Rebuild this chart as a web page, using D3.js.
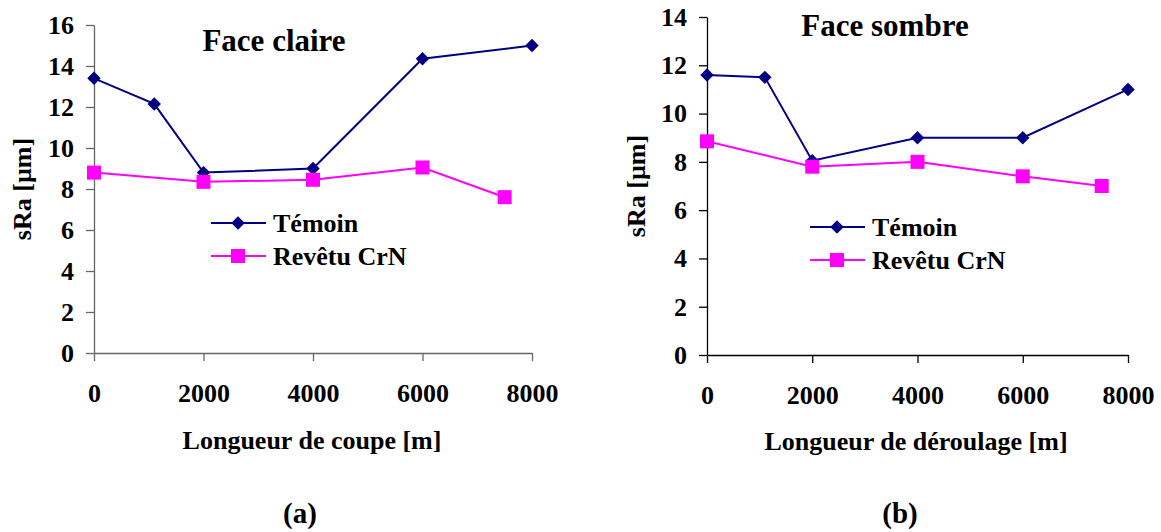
<!DOCTYPE html>
<html>
<head>
<meta charset="utf-8">
<script src="https://cdn.jsdelivr.net/npm/d3@7"></script>
<style>
  body { margin: 0; background: #fff; }
  svg text { font-family: "Liberation Serif", "Times New Roman", serif; font-weight: bold; fill: #000; }
</style>
</head>
<body>
<div id="chart"></div>
<script>
// données
const xTicks = [0, 2000, 4000, 6000, 8000];

const xTemoinA = [0, 1100, 2000, 4000, 6000, 8000];
const yTemoinA = [13.4, 12.15, 8.8, 9.0, 14.35, 15.0];
const xRevetuA = [0, 2000, 4000, 6000, 7500];
const yRevetuA = [8.8, 8.35, 8.45, 9.05, 7.6];
const yTicksA = [0, 2, 4, 6, 8, 10, 12, 14, 16];

const xTemoinB = [0, 1100, 2000, 4000, 6000, 8000];
const yTemoinB = [11.6, 11.5, 8.05, 9.0, 9.0, 11.0];
const xRevetuB = [0, 2000, 4000, 6000, 7500];
const yRevetuB = [8.85, 7.8, 8.0, 7.4, 7.0];
const yTicksB = [0, 2, 4, 6, 8, 10, 12, 14];

const seriesNames = ["Témoin", "Revêtu CrN"];
const navy = "#000080", magenta = "#FF00FF";

const svg = d3.select("#chart").append("svg")
    .attr("width", 1161)
    .attr("height", 532);

const panels = [
    {
        title: "Face claire", xTitle: "Longueur de coupe [m]", caption: "(a)",
        xRange: [94, 532], yMax: 16, yRange: [353, 25], yTicks: yTicksA,
        axisColor: "#666",
        temoin: xTemoinA.map((d, i) => [d, yTemoinA[i]]),
        revetu: xRevetuA.map((d, i) => [d, yRevetuA[i]]),
        titlePos: [274, 51], legend: [211, 223], yTitleX: 31, yTitleY: 189,
        xTitleX: 312, xTitleY: 449, captionX: 300
    },
    {
        title: "Face sombre", xTitle: "Longueur de déroulage [m]", caption: "(b)",
        xRange: [707, 1128], yMax: 14, yRange: [355, 17], yTicks: yTicksB,
        axisColor: "#000",
        temoin: xTemoinB.map((d, i) => [d, yTemoinB[i]]),
        revetu: xRevetuB.map((d, i) => [d, yRevetuB[i]]),
        titlePos: [885, 36], legend: [810, 227], yTitleX: 645, yTitleY: 186,
        xTitleX: 916, xTitleY: 450, captionX: 900
    }
];

panels.forEach(p => drawPanel(p));

function drawPanel(p){
    const x = d3.scaleLinear().domain([0, 8000]).range(p.xRange);
    const y = d3.scaleLinear().domain([0, p.yMax]).range(p.yRange);

    const g = svg.append("g");

    // Axe Y
    const yAxis = g.append("g")
        .attr("transform", `translate(${p.xRange[0]},0)`)
        .call(d3.axisLeft(y).tickValues(p.yTicks).tickSize(8).tickPadding(12).tickSizeOuter(0));
    yAxis.selectAll("text").style("font-size", "26px");

    // Axe X
    const xAxis = g.append("g")
        .attr("transform", `translate(0,${p.yRange[0]})`)
        .call(d3.axisBottom(x).tickValues(xTicks).tickFormat(d3.format("d")).tickSize(8).tickPadding(23).tickSizeOuter(0));
    xAxis.selectAll("text").style("font-size", "26px");

    [yAxis, xAxis].forEach(a => {
        a.select(".domain").attr("stroke", p.axisColor).attr("stroke-width", 1.3);
        a.selectAll(".tick line").attr("stroke", p.axisColor).attr("stroke-width", 1.3);
    });

    // Lignes
    const line = d3.line().x(d => x(d[0])).y(d => y(d[1]));
    g.append("path").datum(p.temoin)
        .attr("d", line).attr("fill", "none")
        .attr("stroke", navy).attr("stroke-width", 2);
    g.append("path").datum(p.revetu)
        .attr("d", line).attr("fill", "none")
        .attr("stroke", magenta).attr("stroke-width", 2);

    // Marqueurs
    const diamond = d3.symbol().type(d3.symbolDiamond2).size(115);
    g.selectAll(".m1").data(p.temoin).join("path")
        .attr("d", diamond)
        .attr("transform", d => `translate(${x(d[0])},${y(d[1])})`)
        .attr("fill", navy);
    g.selectAll(".m2").data(p.revetu).join("rect")
        .attr("x", d => x(d[0]) - 7).attr("y", d => y(d[1]) - 7)
        .attr("width", 14).attr("height", 14)
        .attr("fill", magenta);

    // Titre
    g.append("text")
        .attr("x", p.titlePos[0]).attr("y", p.titlePos[1])
        .attr("text-anchor", "middle")
        .style("font-size", "31px")
        .text(p.title);

    // Légende
    const lg = g.append("g").attr("transform", `translate(${p.legend[0]},${p.legend[1]})`);
    [navy, magenta].forEach((c, i) => {
        const ly = i * 33;
        lg.append("line").attr("x1", 0).attr("x2", 55).attr("y1", ly).attr("y2", ly)
            .attr("stroke", c).attr("stroke-width", 2);
        if (i === 0) {
            lg.append("path").attr("d", diamond)
                .attr("transform", `translate(27,${ly})`).attr("fill", c);
        } else {
            lg.append("rect").attr("x", 20).attr("y", ly - 7).attr("width", 14).attr("height", 14).attr("fill", c);
        }
        lg.append("text").attr("x", 62).attr("y", ly + 9)
            .style("font-size", "26px")
            .text(seriesNames[i]);
    });

    // Titres des axes
    g.append("text")
        .attr("transform", `translate(${p.yTitleX},${p.yTitleY}) rotate(-90)`)
        .attr("text-anchor", "middle")
        .style("font-size", "26px")
        .text("sRa [µm]");
    g.append("text")
        .attr("x", p.xTitleX).attr("y", p.xTitleY)
        .attr("text-anchor", "middle")
        .style("font-size", "26px")
        .text(p.xTitle);

    // Légende de figure
    g.append("text")
        .attr("x", p.captionX).attr("y", 523)
        .attr("text-anchor", "middle")
        .style("font-size", "29px")
        .text(p.caption);
}
</script>
</body>
</html>
